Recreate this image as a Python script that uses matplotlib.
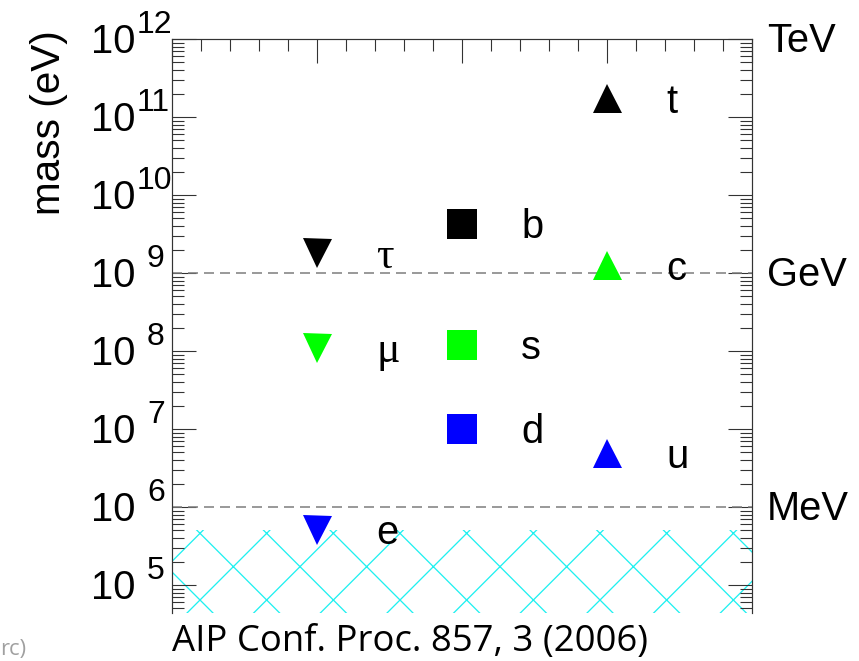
import matplotlib
matplotlib.use("Agg")
import matplotlib.pyplot as plt
from matplotlib import transforms
from matplotlib.ticker import MultipleLocator, LogLocator, NullFormatter

# ---- data -------------------------------------------------------------
column_x = [1.0, 1.5, 2.0]                 # leptons, down-type, up-type quarks
column_marker = ["v", "s", "^"]
generation_color = ["#0000ff", "#00ff00", "#000000"]

lepton_names = ["e", "μ", "τ"]
lepton_mass = [5.11e5, 1.1e8, 1.8e9]       # eV
down_names = ["d", "s", "b"]
down_mass = [1.0e7, 1.2e8, 4.3e9]
up_names = ["u", "c", "t"]
up_mass = [4.9e6, 1.25e9, 1.73e11]

scale_names = ["MeV", "GeV", "TeV"]
scale_values = [1e6, 1e9, 1e12]
dashed_levels = [1e6, 1e9]
decades = [5, 6, 7, 8, 9, 10, 11, 12]
citation = "AIP Conf. Proc. 857, 3 (2006)"

# ---- figure geometry (pixels) -----------------------------------------
W, H, DPI = 859, 661, 400
PT = 72.0 / DPI                            # points per pixel
HATCH = "#20f0f0"

plt.rcParams["font.family"] = ["Liberation Sans", "DejaVu Sans"]
plt.rcParams["hatch.linewidth"] = 1.3 * PT
plt.rcParams["hatch.color"] = HATCH

fig = plt.figure(figsize=(W / DPI, H / DPI), dpi=DPI)
left, right, top, bottom = 172, 752, 39, 613
ax = fig.add_axes([left / W, 1 - bottom / H, (right - left) / W, (bottom - top) / H])

ax.set_xlim(0.5, 2.5)
ax.set_yscale("log")
ymin = 10 ** 4.641
ax.set_ylim(ymin, 1e12)

# ---- frame and ticks ---------------------------------------------------
frame_color = "#333333"
for side in ("top", "left", "right"):
    ax.spines[side].set_color(frame_color)
    ax.spines[side].set_linewidth(1.2 * PT)
ax.spines["bottom"].set_visible(False)

ax.xaxis.set_major_locator(MultipleLocator(0.5))
ax.xaxis.set_minor_locator(MultipleLocator(0.1))
ax.yaxis.set_major_locator(LogLocator(base=10, numticks=20))
ax.yaxis.set_minor_locator(LogLocator(base=10, subs=range(2, 10), numticks=20))
ax.yaxis.set_minor_formatter(NullFormatter())
ax.tick_params(axis="x", which="both", direction="in", top=True, bottom=False,
               labeltop=False, labelbottom=False, color=frame_color, width=1.1 * PT)
ax.tick_params(axis="y", which="both", direction="in", left=True, right=True,
               labelleft=False, labelright=False, color=frame_color, width=1.1 * PT)
ax.tick_params(which="major", length=24 * PT)
ax.tick_params(which="minor", length=12 * PT)

# ---- kinematically excluded band below the electron mass ---------------
ax.axhspan(ymin, lepton_mass[0], facecolor="none", edgecolor=HATCH,
           hatch="xx", linewidth=0, zorder=1)

# ---- reference scale lines -------------------------------------------
dash_lw = 1.5
for lvl in dashed_levels:
    ax.axhline(lvl, color="#7a7a7a", linewidth=dash_lw * PT,
               dashes=(10 / dash_lw, 6 / dash_lw), zorder=2)

# ---- particles ---------------------------------------------------------
groups = [(lepton_names, lepton_mass), (down_names, down_mass), (up_names, up_mass)]
greek = {"μ", "τ"}
for cx, mk, (names, masses) in zip(column_x, column_marker, groups):
    for gen, (name, m) in enumerate(zip(names, masses)):
        ms = 30 if mk == "s" else 29
        ax.plot([cx], [m], marker=mk, color=generation_color[gen], markersize=ms * PT,
                markeredgewidth=0, linestyle="none", zorder=4)
        if name in greek:
            fam = ["Liberation Serif", "DejaVu Serif"]
            fs = 44 * PT
        else:
            fam = ["Liberation Sans", "DejaVu Sans"]
            fs = 40 * PT
        ax.annotate(name, (cx, m), xytext=(59, -14.5), textcoords="offset pixels",
                    ha="left", va="baseline", fontsize=fs, family=fam, color="black",
                    zorder=5)

# ---- y tick labels drawn as 10 with a raised exponent ------------------
ylab_trans = transforms.blended_transform_factory(ax.transAxes, ax.transData)
base_tr = transforms.offset_copy(ylab_trans, fig=fig, x=-37, y=-14, units="dots")
exp_tr_1 = transforms.offset_copy(ylab_trans, fig=fig, x=-25, y=6, units="dots")
exp_tr_2 = transforms.offset_copy(ylab_trans, fig=fig, x=-35, y=6, units="dots")
for d in decades:
    ax.text(0, 10.0 ** d, "10", transform=base_tr, ha="right", va="baseline",
            fontsize=40 * PT, clip_on=False)
    ax.text(0, 10.0 ** d, str(d), transform=exp_tr_1 if d < 10 else exp_tr_2,
            ha="left", va="baseline", fontsize=32 * PT, clip_on=False)

# ---- energy scale names on the right -----------------------------------
scale_tr = transforms.offset_copy(
    transforms.blended_transform_factory(ax.transAxes, ax.transData),
    fig=fig, x=15, y=-13, units="dots")
for name, v in zip(scale_names, scale_values):
    ax.text(1, v, name, transform=scale_tr, ha="left", va="baseline",
            fontsize=40 * PT, clip_on=False)

# ---- axis title and citation ------------------------------------------
fig.text(48.5 / W, 1 - 122.5 / H, "mass (eV)", rotation=90, ha="center", va="center",
         fontsize=40.5 * PT)
fig.text(172 / W, 1 - 651 / H, citation, ha="left", va="baseline",
         fontsize=36.5 * PT, family=["Open Sans", "DejaVu Sans"])
fig.text(0 / W, 1 - 660 / H, "rc)", ha="left", va="bottom", fontsize=22 * PT,
         family=["Open Sans", "DejaVu Sans"], color="#a0a0a0")

fig.savefig("out.png", dpi=DPI)
